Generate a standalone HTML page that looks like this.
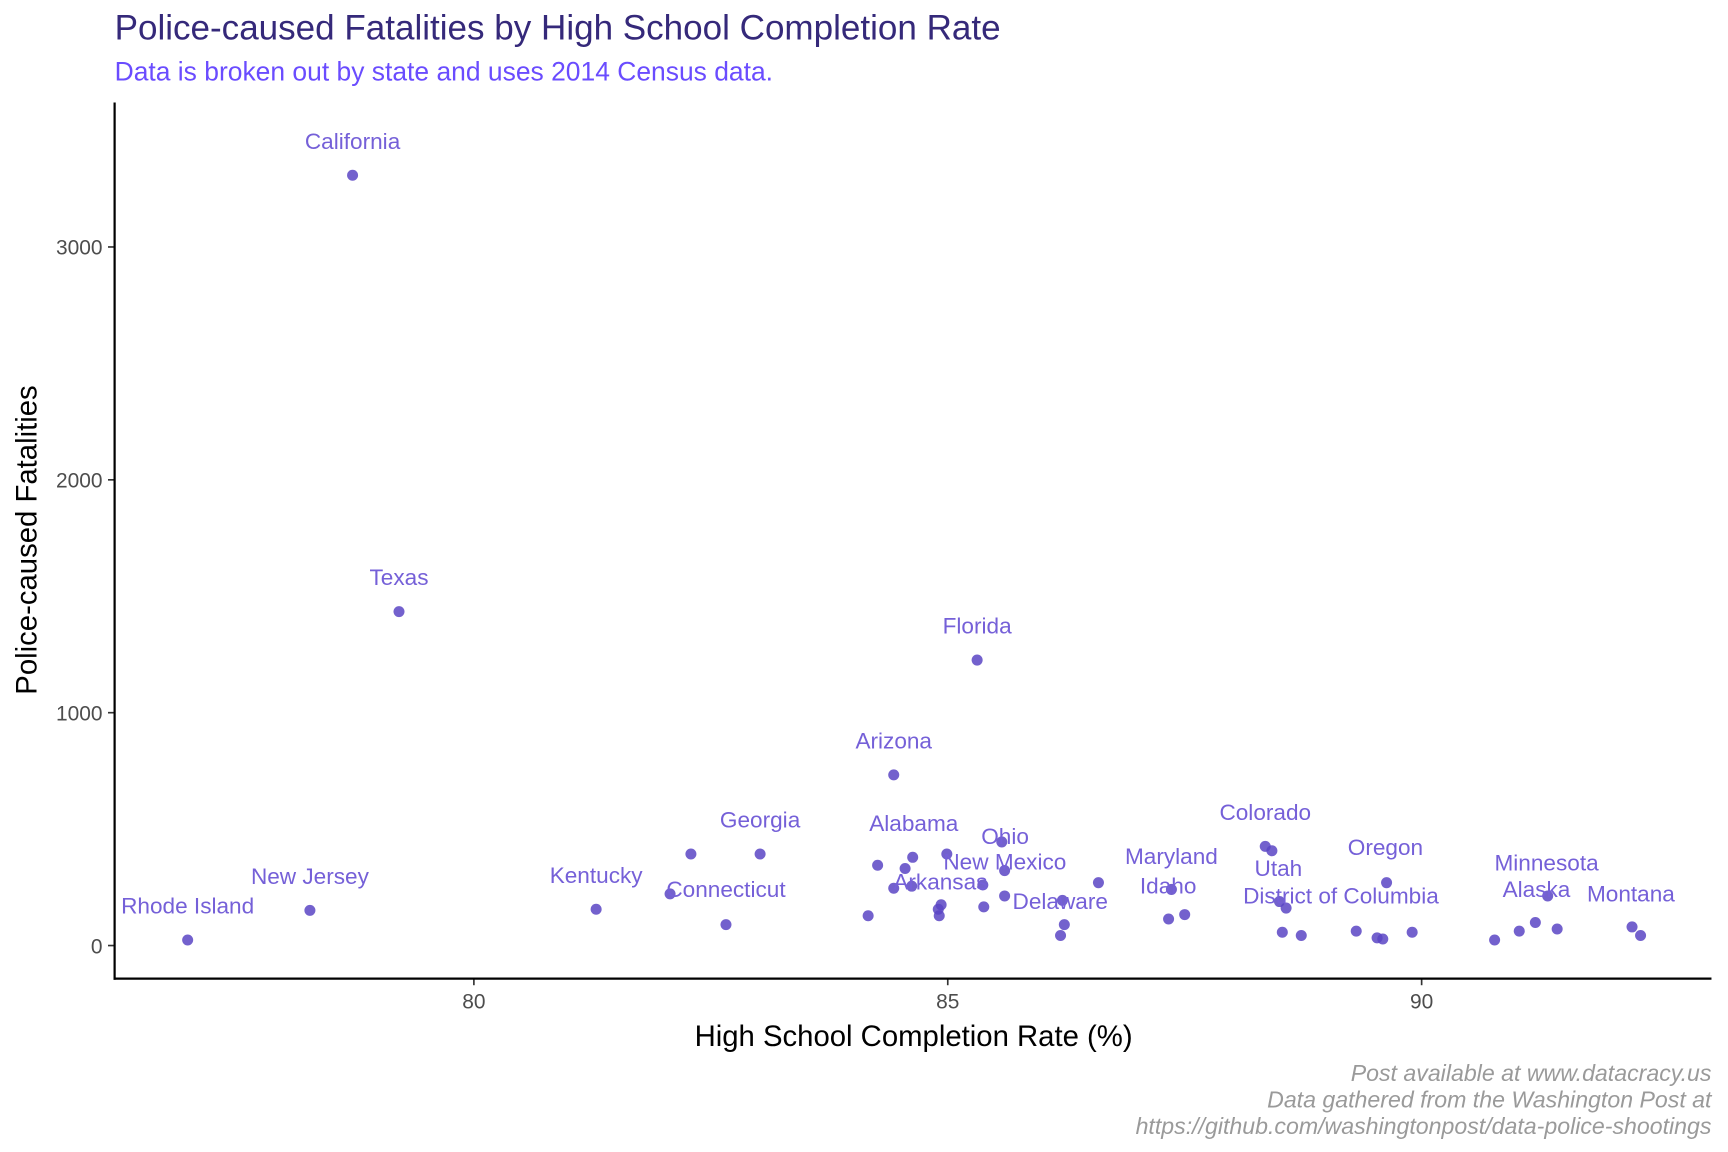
<!DOCTYPE html>
<html><head><meta charset="utf-8"><style>
html,body{margin:0;padding:0;background:#fff;}
svg{display:block;font-family:"Liberation Sans",Arial,sans-serif;}
</style></head><body>
<svg id="chart" width="1728" height="1152" viewBox="0 0 1568 1045.33" xmlns="http://www.w3.org/2000/svg">
<text x="104" y="36" font-size="31.8" fill="#35297a">Police-caused Fatalities by High School Completion Rate</text>
<text x="104" y="73" font-size="24" fill="#6a4cff">Data is broken out by state and uses 2014 Census data.</text>
<g id="plot"></g>
<line x1="104" y1="93" x2="104" y2="889" stroke="#000" stroke-width="2"/>
<line x1="103" y1="888" x2="1553" y2="888" stroke="#000" stroke-width="2"/>
<text x="829" y="949" font-size="26.6" text-anchor="middle" fill="#000">High School Completion Rate (%)</text>
<text transform="translate(33,490) rotate(-90)" font-size="26.6" text-anchor="middle" fill="#000">Police-caused Fatalities</text>
<g font-size="21" font-style="italic" fill="#9a9a9a" text-anchor="end">
<text x="1553" y="981">Post available at www.datacracy.us</text>
<text x="1553" y="1005">Data gathered from the Washington Post at</text>
<text x="1553" y="1029">https://github.com/washingtonpost/data-police-shootings</text>
</g>
</svg>
<script>
const completionRate=[78.72,79.21,76.98,78.27,81.29,82.07,82.66,82.29,83.02,84.26,84.43,84.55,84.63,84.43,84.62,84.16,84.90,84.93,84.91,85.31,84.99,85.37,85.38,85.57,85.60,85.60,86.21,86.23,86.19,86.59,87.36,87.33,87.50,88.35,88.42,88.50,88.57,88.53,88.73,89.31,89.53,89.59,89.63,89.90,90.77,91.03,91.20,91.33,91.43,92.22,92.31];
const fatalities=[3308,1434,24,151,156,222,90,393,393,345,733,331,379,246,255,128,156,175,128,1226,393,260,166,445,322,213,194,90,43,270,241,114,133,426,407,189,161,57,43,62,33,28,270,57,24,62,99,213,71,80,43];
const labelNames=["California","Texas","Rhode Island","New Jersey","Kentucky","Connecticut","Georgia","Arizona","Alabama","Arkansas","Florida","New Mexico","Ohio","Delaware","Maryland","Idaho","Colorado","Utah","District of Columbia","Oregon","Minnesota","Alaska","Montana"];
const labelPointIndex=[0,1,2,3,4,6,8,10,12,14,19,21,23,26,30,32,33,36,38,42,47,46,49];
const labelOffsetX=[0,0,0,0,0,0,0,0,1,26,0,20,3,-2,0,-15,0,-7,36,-1,-1,1,-1];
const labelOffsetY=[-24,-24,-24,-24,-24,-25,-24,-24,-24,3,-24,-14,2,8,-23,-19,-24,-29,-29,-25,-23,-23,-23];
const xTicks=[80,85,90];
const yTicks=[0,1000,2000,3000];
const xs=v=>430+(v-80)*86;
const ys=v=>858-v*0.2113;
const NS="http://www.w3.org/2000/svg";
const plot=document.getElementById('plot');
function mk(tag,attrs){const e=document.createElementNS(NS,tag);for(const k in attrs)e.setAttribute(k,attrs[k]);return e;}
xTicks.forEach(t=>{
  const l=mk('line',{x1:xs(t),x2:xs(t),y1:888,y2:894,stroke:'#333','stroke-width':1.5});
  
  
  plot.appendChild(l);
  const tx=mk('text',{x:xs(t),y:915,'font-size':19,'text-anchor':'middle',fill:'#4d4d4d'});
  
  
  tx.textContent=t;plot.appendChild(tx);
});
yTicks.forEach(t=>{
  const l=mk('line',{x1:98,x2:104,y1:ys(t),y2:ys(t),stroke:'#333','stroke-width':1.5});
  
  
  plot.appendChild(l);
  const tx=mk('text',{x:93,y:ys(t)+7,'font-size':19,'text-anchor':'end',fill:'#4d4d4d'});
  
  
  tx.textContent=t;plot.appendChild(tx);
});
completionRate.forEach((v,i)=>{
  const c=mk('circle',{cx:xs(v),cy:ys(fatalities[i]),r:5,fill:'#5a45c4','fill-opacity':0.85});
  
  
  plot.appendChild(c);
});
labelNames.forEach((n,j)=>{
  const i=labelPointIndex[j];
  const tx=mk('text',{x:xs(completionRate[i])+labelOffsetX[j],y:ys(fatalities[i])+labelOffsetY[j],'font-size':20.5,'text-anchor':'middle',fill:'#7560d8'});
  
  
  tx.textContent=n;plot.appendChild(tx);
});
</script>
</body></html>
